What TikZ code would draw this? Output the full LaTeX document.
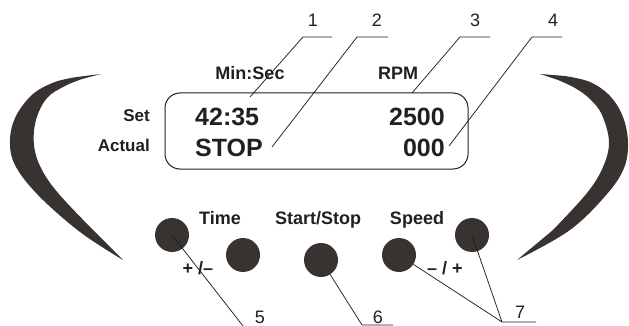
\documentclass[tikz,border=0pt]{standalone}
\usepackage{fontspec}
\setmainfont{Liberation Sans}
\definecolor{knob}{HTML}{383230}
\definecolor{ink}{HTML}{231F20}

\begin{document}
\begin{tikzpicture}[x=1pt, y=-1pt, line join=round,
    num/.style = {font=\fontsize{18}{20}\selectfont, text=ink, inner sep=0pt, anchor=base},
    lbl/.style = {font=\bfseries\fontsize{18}{20}\selectfont, text=ink, inner sep=0pt, anchor=base},
    lcd/.style = {font=\bfseries\fontsize{25}{28}\selectfont, text=ink, inner sep=0pt},
    btn/.style = {circle, fill=knob, minimum size=34pt, inner sep=0pt},
    lead/.style = {draw=ink, line width=0.75pt}]
  \useasboundingbox (0,0) rectangle (629,326);
  % side arcs
  \fill[knob] (101,74) -- plot[smooth, tension=.6] coordinates {(77,77) (55,82) (33,94) (16,116) (10,140) (15,165) (38,195) (80,232) (123,260)}
    -- plot[smooth, tension=.6] coordinates {(93,230) (58,193) (41,168) (34,145) (36,120) (47,98) (65,86) (82,79)} -- cycle;
  \fill[knob] (540,74) -- plot[smooth, tension=.6] coordinates {(565,76) (590,82) (610,96) (623,117) (628,143) (624,168) (607,194) (570,230) (517,260)}
    -- plot[smooth, tension=.6] coordinates {(553,230) (587,193) (603,167) (609,142) (602,115) (590,99) (575,88) (558,80)} -- cycle;

  % display
  \node[draw=ink, line width=1pt, rounded corners=15pt, minimum width=303pt, minimum height=76pt] (disp) at (316.5,131) {};
  \node[lbl] (minsec) at (250,79.5) {Min:Sec};
  \node[lbl] (rpm) at (398,79.5) {RPM};
  \node[lbl, anchor=base east, font=\bfseries\fontsize{17}{20}\selectfont] (set) at (150,122) {Set};
  \node[lbl, anchor=base east, font=\bfseries\fontsize{17}{20}\selectfont] (actual) at (150,152) {Actual};
  \node[lcd, anchor=base west] (tset) at (195,126) {42:35};
  \node[lcd, anchor=base west] (tact) at (195,157) {STOP};
  \node[lcd, anchor=base east] (rset) at (445,126) {2500};
  \node[lcd, anchor=base east] (ract) at (445,157) {000};

  % buttons
  \node[btn] (b1) at (172,235) {};
  \node[btn] (b2) at (243,255) {};
  \node[btn] (b3) at (321,260) {};
  \node[btn] (b4) at (399,255) {};
  \node[btn] (b5) at (472,235) {};
  \node[lbl] (time) at (220,224.5) {Time};
  \node[lbl] (startstop) at (318,224.5) {Start/Stop};
  \node[lbl] (speed) at (417,224.5) {Speed};
  \node[lbl] (tpm) at (198,274) {+ /–};
  \node[lbl] (spm) at (445,274) {– / +};

  % callouts
  \node[num] (n1) at (313,26.5) {1};
  \node[num] (n2) at (377,26.5) {2};
  \node[num] (n3) at (475,26.5) {3};
  \node[num] (n4) at (553,26.5) {4};
  \node[num] (n5) at (260,323.5) {5};
  \node[num] (n6) at (378,323.5) {6};
  \node[num] (n7) at (520,318.5) {7};

  \coordinate (k1) at (303,37); \coordinate (e1) at (332,37); \coordinate (p1) at (250,97);
  \coordinate (k2) at (357,37); \coordinate (e2) at (388,37); \coordinate (p2) at (272,147);
  \coordinate (k3) at (460,37); \coordinate (e3) at (490,37); \coordinate (p3) at (412,93);
  \coordinate (k4) at (532,37); \coordinate (e4) at (562,37); \coordinate (p4) at (449,146);
  \draw[lead] (e1) -- (k1) -- (p1);
  \draw[lead] (e2) -- (k2) -- (p2);
  \draw[lead] (e3) -- (k3) -- (p3);
  \draw[lead] (e4) -- (k4) -- (p4);

  \coordinate (k5) at (243,326);
  \coordinate (k6) at (362,325); \coordinate (e6) at (393,325);
  \coordinate (k7) at (502,322); \coordinate (e7) at (536,322);
  \draw[lead] (b1.center) -- (k5);
  \draw[lead] (b3) -- (k6) -- (e6);
  \draw[lead] (b4) -- (k7) -- (e7);
  \draw[lead] (b5.center) -- (k7);
\end{tikzpicture}
\end{document}
